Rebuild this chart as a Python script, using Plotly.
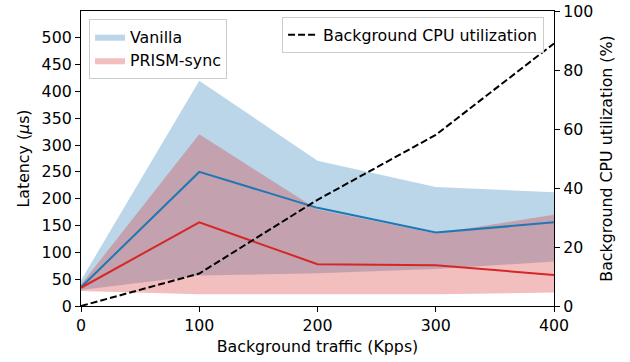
import plotly.graph_objects as go

traffic = [0, 100, 200, 300, 400]
vanilla_mean = [35, 250, 183, 137, 156]
vanilla_upper = [48, 420, 271, 222, 212]
vanilla_lower = [30, 57, 61, 69, 83]
prism_mean = [34, 156, 78, 76, 58]
prism_upper = [40, 320, 180, 135, 170]
prism_lower = [28, 22, 22, 22, 25]
cpu_util = [0, 11, 36, 58, 89]

y_ticks = list(range(0, 501, 50))
y2_ticks = list(range(0, 101, 20))
x_ticks = [0, 100, 200, 300, 400]

FAM = "DejaVu Sans"
FS = 15.8
tickfont = dict(family=FAM, size=FS, color="black")
titlefont = dict(family=FAM, size=FS, color="black")
legfont = dict(family=FAM, size=FS, color="black")

fig = go.Figure()

fig.add_trace(go.Scatter(
    x=traffic + traffic[::-1], y=vanilla_upper + vanilla_lower[::-1],
    fill="toself", fillcolor="rgba(31,119,180,0.3)", line=dict(width=0),
    mode="lines", name="Vanilla", legend="legend", hoverinfo="skip"))
fig.add_trace(go.Scatter(
    x=traffic + traffic[::-1], y=prism_upper + prism_lower[::-1],
    fill="toself", fillcolor="rgba(214,39,40,0.3)", line=dict(width=0),
    mode="lines", name="PRISM-sync", legend="legend", hoverinfo="skip"))
fig.add_trace(go.Scatter(
    x=traffic, y=vanilla_mean, mode="lines",
    line=dict(color="#1f77b4", width=2), showlegend=False))
fig.add_trace(go.Scatter(
    x=traffic, y=prism_mean, mode="lines",
    line=dict(color="#d62728", width=2), showlegend=False))
fig.add_trace(go.Scatter(
    x=traffic, y=cpu_util, mode="lines", yaxis="y2",
    line=dict(color="black", width=2, dash="7px,3px"),
    name="Background CPU utilization", legend="legend2"))

axis_common = dict(
    ticks="outside", ticklen=5, tickcolor="black", tickwidth=1.2,
    showline=True, linecolor="black", linewidth=1.2,
    showgrid=False, zeroline=False, tickfont=tickfont, automargin=False,
)

fig.update_layout(
    width=630, height=362,
    margin=dict(l=81, r=76, t=11, b=56),
    plot_bgcolor="white", paper_bgcolor="white",
    font=dict(family=FAM, size=FS, color="black"),
    xaxis=dict(
        range=[0, 400], tickvals=x_ticks, mirror=True, **axis_common,
        title=dict(text="Background traffic (Kpps)", standoff=6, font=titlefont),
    ),
    yaxis=dict(
        range=[0, 550], tickvals=y_ticks, **axis_common,
        title=dict(text="Latency (<i>μ</i>s)", standoff=8, font=titlefont),
    ),
    yaxis2=dict(
        range=[0, 100], tickvals=y2_ticks, overlaying="y", side="right",
        **axis_common,
        title=dict(text="Background CPU utilization (%)", standoff=8, font=titlefont),
    ),
    legend=dict(
        x=0.017, y=0.973, xanchor="left", yanchor="top",
        bgcolor="rgba(255,255,255,0.8)", bordercolor="#cccccc", borderwidth=1,
        font=legfont, tracegroupgap=2,
    ),
    legend2=dict(
        x=0.979, y=0.98, xanchor="right", yanchor="top",
        bgcolor="rgba(255,255,255,0.8)", bordercolor="#cccccc", borderwidth=1,
        font=legfont,
    ),
)

fig.write_html("out.html")
